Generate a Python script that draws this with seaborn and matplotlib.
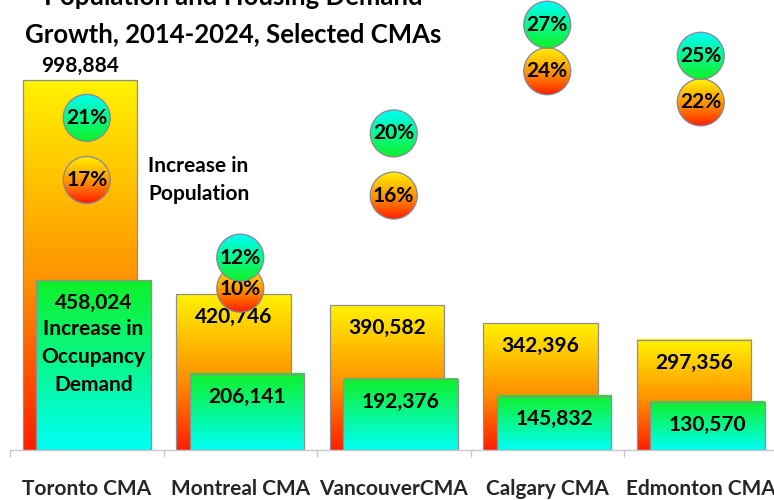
import numpy as np
import pandas as pd
import matplotlib
matplotlib.use("Agg")
import matplotlib.pyplot as plt
import seaborn as sns
from matplotlib.colors import LinearSegmentedColormap
from matplotlib.patches import Ellipse

# ---------------- data ----------------
cities = ["Toronto CMA", "Montreal CMA", "VancouverCMA", "Calgary CMA", "Edmonton CMA"]
pop_increase = [998884, 420746, 390582, 342396, 297356]
occ_increase = [458024, 206141, 192376, 145832, 130570]
pop_pct = [17, 10, 16, 24, 22]
occ_pct = [21, 12, 20, 27, 25]
title_lines = ["Population and Housing Demand", "Growth, 2014-2024, Selected CMAs"]
pop_note = "Increase in\nPopulation"
occ_note = "Increase in\nOccupancy\nDemand"

# ---------------- style ----------------
sns.set_theme(style="white")
plt.rcParams["font.family"] = ["Lato", "DejaVu Sans"]
FW = "bold"
plt.rcParams["font.weight"] = FW

W, H = 774, 500
fig = plt.figure(figsize=(W / 100, H / 100), dpi=100)
ax = fig.add_axes([10 / W, 50 / H, 767.5 / W, 450 / H])

pop_cmap = LinearSegmentedColormap.from_list(
    "pop", [(0.0, "#ff1e00"), (0.45, "#ff9000"), (1.0, "#fff200")])
occ_cmap = LinearSegmentedColormap.from_list(
    "occ", [(0.0, "#00fff6"), (1.0, "#10f028")])
occ_circle_cmap = LinearSegmentedColormap.from_list(
    "occc", [(0.0, "#10f028"), (1.0, "#00fff6")])

df = pd.DataFrame({"city": cities, "pop": pop_increase, "occ": occ_increase})

BAR_W = 0.743
SHIFT = 0.044
sns.barplot(data=df, x="city", y="pop", width=BAR_W, color="#ffaa00",
            errorbar=None, ax=ax)
n = len(cities)
pop_bars = list(ax.patches[:n])
sns.barplot(data=df, x="city", y="occ", width=BAR_W, color="#00ff88",
            errorbar=None, ax=ax)
occ_bars = list(ax.patches[n:2 * n])

grad = np.linspace(0, 1, 256).reshape(-1, 1)


def gradient_bar(patch, cmap, z, dx):
    patch.set_x(patch.get_x() + dx)
    x, y = patch.get_x(), patch.get_y()
    w, h = patch.get_width(), patch.get_height()
    ax.imshow(grad, extent=[x, x + w, y, y + h], origin="lower",
              aspect="auto", cmap=cmap, zorder=z, interpolation="bilinear")
    patch.set_facecolor("none")
    patch.set_edgecolor("#8f8f8f")
    patch.set_linewidth(0.9)
    patch.set_zorder(z + 0.05)


for p in pop_bars:
    gradient_bar(p, pop_cmap, 1, -SHIFT)
for p in occ_bars:
    gradient_bar(p, occ_cmap, 2, SHIFT)

YMAX = 1215000
ax.set_ylim(0, YMAX)
ax.set_xlim(-0.5, n - 0.5)

# value labels
label_fs = 15
pmax = max(pop_increase)
for p, v in zip(pop_bars, pop_increase):
    cx = p.get_x() + p.get_width() / 2
    top = p.get_height()
    dy = 10 if v == pmax else -16.5
    ax.annotate(f"{v:,}", (cx, top), xytext=(0, dy), textcoords="offset points",
                ha="center", va="center", fontsize=label_fs, fontweight=FW,
                color="black", zorder=5)
for i, (p, v) in enumerate(zip(occ_bars, occ_increase)):
    cx = p.get_x() + p.get_width() / 2
    top = p.get_height()
    ax.annotate(f"{v:,}", (cx, top), xytext=(0, -16.5), textcoords="offset points",
                ha="center", va="center", fontsize=label_fs, fontweight=FW,
                color="black", zorder=5)
    if i == 0:
        ax.annotate(occ_note, (cx, top), xytext=(0, -27.5), textcoords="offset points",
                    ha="center", va="top", fontsize=label_fs, fontweight=FW,
                    color="black", linespacing=1.5, zorder=5)

# axes cosmetics
for s in ["left", "right", "top"]:
    ax.spines[s].set_visible(False)
ax.spines["bottom"].set_color("#c8c8c8")
ax.spines["bottom"].set_linewidth(1.0)
ax.set_yticks([])
ax.set_xlabel("")
ax.set_ylabel("")
ax.set_xticks(np.arange(-0.5, n, 1.0))
ax.set_xticklabels([""] * (n + 1))
ax.set_xticks(np.arange(n), minor=True)
ax.set_xticklabels(cities, minor=True, fontsize=15, fontweight=FW)
ax.tick_params(axis="x", which="major", bottom=True, length=5, width=1,
               color="#c8c8c8")
ax.tick_params(axis="x", which="minor", bottom=True, length=0, pad=21)

# ---------------- percentage circles on twin axis ----------------
ax2 = ax.twinx()
PLO, PHI = -0.386, 28.59
ax2.set_ylim(PLO, PHI)
circ_px = 47
ell_w = circ_px / (767.5 / n)
ell_h = circ_px / (450 / (PHI - PLO))
pts2 = (circ_px * 0.72) ** 2


def circles(vals, cmap, z):
    for i, v in enumerate(vals):
        e = Ellipse((i, v), ell_w, ell_h, transform=ax2.transData)
        im = ax2.imshow(grad, extent=[i - ell_w / 2, i + ell_w / 2,
                                      v - ell_h / 2, v + ell_h / 2],
                        origin="lower", aspect="auto", cmap=cmap, zorder=z,
                        interpolation="bilinear")
        im.set_clip_path(e)
    sns.scatterplot(x=list(range(len(vals))), y=vals, s=pts2, marker="o",
                    facecolor="none", edgecolor="#8a8698", linewidth=0.9,
                    zorder=z + 0.05, ax=ax2, legend=False)
    for i, v in enumerate(vals):
        ax2.text(i, v, f"{v}%", ha="center", va="center", fontsize=label_fs,
                 fontweight=FW, color="black", zorder=z + 0.1)


circles(pop_pct, pop_cmap, 2)
circles(occ_pct, occ_circle_cmap, 3)

ax2.annotate(pop_note, (pop_bars[0].get_x() + pop_bars[0].get_width(), pop_pct[0]),
             xytext=(8, 0), textcoords="offset points", ha="left", va="center",
             fontsize=label_fs, fontweight=FW, color="black", linespacing=1.45)

ax2.set_ylim(PLO, PHI)
ax2.set_xlim(-0.5, n - 0.5)
ax2.set_yticks([])
ax2.set_ylabel("")
for s in ["left", "right", "top", "bottom"]:
    ax2.spines[s].set_visible(False)

# ---------------- title (top line cropped by figure edge) ----------------
fig.text(233 / W, 1 - 5 / H, title_lines[0], ha="center", va="baseline",
         fontsize=18.5, fontweight=FW, color="black")
fig.text(233 / W, 1 - 42 / H, title_lines[1], ha="center", va="baseline",
         fontsize=18.5, fontweight=FW, color="black")

fig.savefig("out.png", dpi=100)
